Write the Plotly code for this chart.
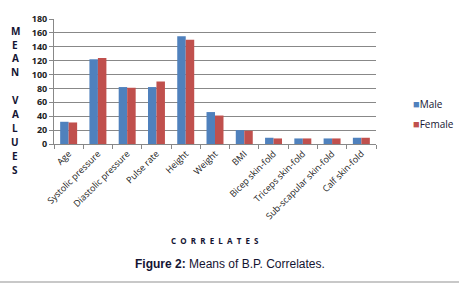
import plotly.graph_objects as go

categories = ["Age", "Systolic pressure", "Diastolic pressure", "Pulse rate", "Height",
              "Weight", "BMI", "Bicep skin-fold", "Triceps skin-fold",
              "Sub-scapular skin-fold", "Calf skin-fold"]
male = [32, 122, 82, 82, 155, 46, 20, 9, 8, 8, 9]
female = [31, 124, 81, 90, 150, 41, 19, 8, 8, 8, 9]
y_ticks = [0, 20, 40, 60, 80, 100, 120, 140, 160, 180]
y_title_letters = ["M", "E", "A", "N", "", "V", "A", "L", "U", "E", "S"]
series_names = ["Male", "Female"]

BLUE = "#4F81BD"
RED = "#C0504D"
TXT = "#141432"
TICK = "#222222"

# plot area in pixels
L, R, T, B = 54, 376, 19, 144
W, H = 459, 285
def px(x):
    return (x - L) / (R - L)
def py(y):
    return (B - y) / (B - T)

fig = go.Figure()
fig.add_trace(go.Bar(x=categories, y=male, name=series_names[0],
                     marker=dict(color=BLUE, line=dict(width=0))))
fig.add_trace(go.Bar(x=categories, y=female, name=series_names[1],
                     marker=dict(color=RED, line=dict(width=0))))

fig.update_layout(
    width=W, height=H,
    margin=dict(l=L, r=W - R, t=T, b=H - B, pad=0, autoexpand=False),
    paper_bgcolor="white", plot_bgcolor="white",
    barmode="group", bargap=0.42, bargroupgap=0,
    font=dict(family="Open Sans", color=TXT),
    showlegend=False,
    xaxis=dict(tickangle=-45, tickfont=dict(family="Open Sans", size=9, color=TICK),
               showline=True, linecolor="#888888", linewidth=1,
               ticks="outside", ticklen=4, tickcolor="#888888", tickson="boundaries",
               showgrid=False, range=[-0.5, len(categories) - 0.5], automargin=False),
    yaxis=dict(range=[0, 180], tickvals=y_ticks,
               tickfont=dict(family="Open Sans", size=9, color=TICK, weight="bold"),
               showline=True, linecolor="#888888", linewidth=1,
               ticks="outside", ticklen=4, tickcolor="#888888",
               showgrid=True, gridcolor="#888888", gridwidth=1, zeroline=False, automargin=False),
)

# legend (drawn as text entries)
for name, col, ypix in zip(series_names, [BLUE, RED], [104, 123]):
    fig.add_annotation(text=f"<span style='color:{col};font-size:11px'>■</span>{name}",
                       xref="paper", yref="paper", x=px(411), y=py(ypix),
                       xanchor="left", yanchor="middle", showarrow=False,
                       font=dict(family="Open Sans", size=10, color=TXT))

for i, ch in enumerate(y_title_letters):
    if not ch:
        continue
    fig.add_annotation(text=ch, xref="paper", yref="paper", x=px(15), y=py(30.7 + 13.9 * i),
                       xanchor="center", yanchor="middle", showarrow=False,
                       font=dict(family="Open Sans", size=10, color=TXT, weight="bold"))
nb = "\u00a0\u00a0"
fig.add_annotation(text=nb.join("CORRELATES"),
                   xref="paper", yref="paper", x=px(215), y=py(240),
                   xanchor="center", yanchor="middle", showarrow=False,
                   font=dict(family="Open Sans", size=8, color=TXT, weight="bold"))
fig.add_annotation(text="<b>Figure 2:</b> Means of B.P. Correlates.",
                   xref="paper", yref="paper", x=px(230), y=py(264),
                   xanchor="center", yanchor="middle", showarrow=False,
                   font=dict(family="Liberation Sans", size=12, color=TXT))
fig.add_shape(type="line", xref="paper", yref="paper", x0=px(0), x1=px(459),
              y0=py(282), y1=py(282), line=dict(color="#c8c8c8", width=2))

fig.write_html("out.html", config={"displayModeBar": False},
               post_script="document.body.style.margin='0';document.body.style.padding='0';")
